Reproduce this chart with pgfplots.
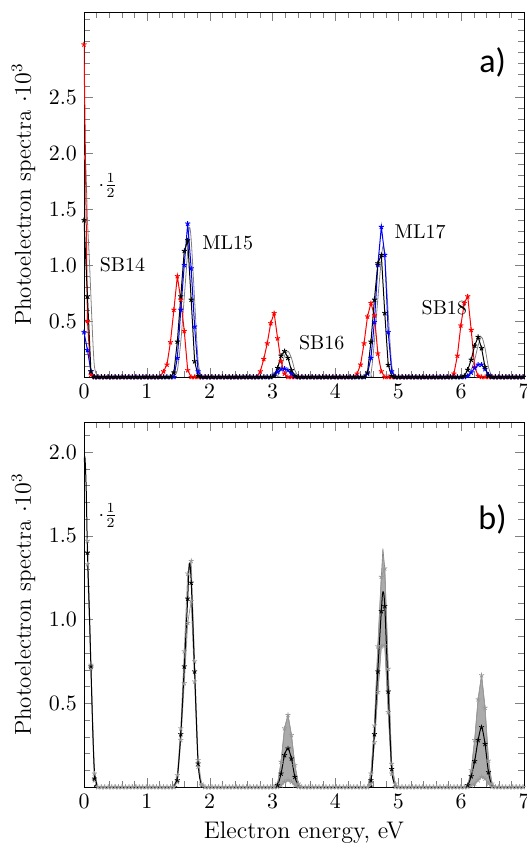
\documentclass[border=0pt]{standalone}
\usepackage{fontspec}
\usepackage{pgfplots}
\pgfplotsset{compat=1.18}
\usepackage{pgfplotstable}
\newfontfamily\carlito{Carlito}

% x = 0.055*i ; r,k,b: top panel (red, black, blue); u,l: bottom panel gray series
\pgfplotstableread{
x r k b u l
0 2.97 1.40 0.40 nan nan
0.055 0.50 0.72 0.24 1.47 1.33
0.11 0.02 0.05 0.05 0.73 0.71
0.165 0 0 0 0.08 0.04
0.22 0 0 0 0 0
0.275 0 0 0 0 0
0.33 0 0 0 0 0
0.385 0 0 0 0 0
0.44 0 0 0 0 0
0.495 0 0 0 0 0
0.55 0 0 0 0 0
0.605 0 0 0 0 0
0.66 0 0 0 0 0
0.715 0 0 0 0 0
0.77 0 0 0 0 0
0.825 0 0 0 0 0
0.88 0 0 0 0 0
0.935 0 0 0 0 0
0.99 0 0 0 0 0
1.045 0 0 0 0 0
1.1 0 0 0 0 0
1.155 0 0 0 0 0
1.21 0 0 0 0 0
1.265 0.05 0 0 0 0
1.32 0.11 0 0 0 0
1.375 0.31 0 0 0 0
1.43 0.60 0.04 0 0 0
1.485 0.90 0.315 0.17 0.07 0.03
1.54 0.69 0.72 0.60 0.35 0.28
1.595 0.41 1.125 1.00 0.81 0.62
1.65 0.06 1.22 1.37 1.275 0.98
1.705 0 0.69 0.97 1.35 1.11
1.76 0 0.14 0.45 0.75 0.63
1.815 0 0.01 0.05 0.16 0.12
1.87 0 0 0 0.02 0.01
1.925 0 0 0 0 0
1.98 0 0 0 0 0
2.035 0 0 0 0 0
2.09 0 0 0 0 0
2.145 0 0 0 0 0
2.2 0 0 0 0 0
2.255 0 0 0 0 0
2.31 0 0 0 0 0
2.365 0 0 0 0 0
2.42 0 0 0 0 0
2.475 0 0 0 0 0
2.53 0 0 0 0 0
2.585 0 0 0 0 0
2.64 0 0 0 0 0
2.695 0 0 0 0 0
2.75 0 0 0 0 0
2.805 0.05 0 0 0 0
2.86 0.16 0 0 0 0
2.915 0.30 0 0 0 0
2.97 0.48 0 0 0 0
3.025 0.57 0.01 0.02 0 0
3.08 0.345 0.08 0.045 0.02 0
3.135 0.14 0.19 0.07 0.15 0.01
3.19 0.03 0.23 0.075 0.35 0.03
3.245 0 0.17 0.06 0.43 0.04
3.3 0 0.06 0.03 0.31 0.03
3.355 0 0.01 0.005 0.13 0.01
3.41 0 0 0 0.02 0
3.465 0 0 0 0 0
3.52 0 0 0 0 0
3.575 0 0 0 0 0
3.63 0 0 0 0 0
3.685 0 0 0 0 0
3.74 0 0 0 0 0
3.795 0 0 0 0 0
3.85 0 0 0 0 0
3.905 0 0 0 0 0
3.96 0 0 0 0 0
4.015 0 0 0 0 0
4.07 0 0 0 0 0
4.125 0 0 0 0 0
4.18 0 0 0 0 0
4.235 0 0 0 0 0
4.29 0 0 0 0 0
4.345 0.03 0 0 0 0
4.4 0.11 0 0 0 0
4.455 0.30 0 0 0 0
4.51 0.54 0.04 0.03 0 0
4.565 0.66 0.315 0.17 0.08 0.02
4.62 0.55 0.69 0.49 0.367 0.267
4.675 0.21 1.015 1.00 0.84 0.567
4.73 0.05 1.09 1.34 1.255 0.84
4.785 0 0.57 1.09 1.305 0.846
4.84 0 0.107 0.40 0.706 0.447
4.895 0 0.01 0.05 0.138 0.08
4.95 0 0 0 0.02 0
5.005 0 0 0 0 0
5.06 0 0 0 0 0
5.115 0 0 0 0 0
5.17 0 0 0 0 0
5.225 0 0 0 0 0
5.28 0 0 0 0 0
5.335 0 0 0 0 0
5.39 0 0 0 0 0
5.445 0 0 0 0 0
5.5 0 0 0 0 0
5.555 0 0 0 0 0
5.61 0 0 0 0 0
5.665 0 0 0 0 0
5.72 0 0 0 0 0
5.775 0 0 0 0 0
5.83 0 0 0 0 0
5.885 0.03 0 0 0 0
5.94 0.19 0 0 0 0
5.995 0.46 0 0 0 0
6.05 0.66 0.01 0 0 0
6.105 0.72 0.064 0.01 0.01 0
6.16 0.42 0.154 0.04 0.10 0.01
6.215 0.09 0.28 0.08 0.28 0.02
6.27 0.01 0.357 0.11 0.523 0.04
6.325 0 0.257 0.11 0.667 0.06
6.38 0 0.088 0.07 0.473 0.05
6.435 0 0.01 0.02 0.157 0.02
6.49 0 0 0 0.02 0
6.545 0 0 0 0 0
6.6 0 0 0 0 0
6.655 0 0 0 0 0
6.71 0 0 0 0 0
6.765 0 0 0 0 0
6.82 0 0 0 0 0
6.875 0 0 0 0 0
6.93 0 0 0 0 0
6.985 0 0 0 0 0
}\data

% smooth curve: gray in a), black in b)
\pgfplotstableread{
x y
0 1.94
0.015 1.97
0.035 1.78
0.055 1.40
0.085 1.05
0.11 0.72
0.14 0.33
0.165 0.10
0.2 0.02
0.25 0
1.40 0
1.43 0.01
1.485 0.06
1.54 0.317
1.595 0.71
1.65 1.13
1.675 1.335
1.705 1.23
1.76 0.687
1.815 0.15
1.87 0.01
1.95 0
3.03 0
3.08 0.01
3.135 0.08
3.19 0.19
3.245 0.23
3.30 0.17
3.355 0.06
3.41 0.01
3.47 0
4.50 0
4.565 0.03
4.62 0.32
4.675 0.70
4.73 1.05
4.755 1.165
4.785 1.08
4.84 0.57
4.895 0.11
4.95 0.01
5.0 0
6.05 0
6.105 0.01
6.16 0.064
6.215 0.154
6.27 0.28
6.325 0.357
6.38 0.257
6.435 0.088
6.49 0.01
6.55 0
7 0
}\theory

\pgfplotsset{
  panel/.style={width=220pt, height=182.5pt, scale only axis,
    xmin=0, xmax=7, xtick={0,...,7}, minor x tick num=4, ymin=0,
    tick label style={font=\fontsize{11}{13}\selectfont},
    xlabel style={font=\fontsize{12}{14}\selectfont},
    ylabel style={font=\fontsize{11.5}{13}\selectfont},
    yticklabel style={/pgf/number format/fixed, /pgf/number format/fixed zerofill,
      /pgf/number format/precision=1},
    ylabel={Photoelectron spectra $\cdot 10^3$}},
  pe/.style={line width=0.5pt, mark=star, mark size=1.3pt, mark options={solid}},
}

\begin{document}
\begin{tikzpicture}
\begin{axis}[panel, ymax=3.26, ytick={0.5,1,1.5,2,2.5}, minor ytick={0,0.1,...,3.2}]
\addplot[gray, line width=0.4pt, smooth] table[x=x, y=y] {\theory};
\addplot[pe, red] table[x=x, y=r] {\data};
\addplot[pe, blue] table[x=x, y=b] {\data};
\addplot[pe, black] table[x=x, y=k] {\data};
\node[anchor=west] at (axis cs:0.12,1.71) {$\cdot\frac{1}{2}$};
\node[anchor=west] at (axis cs:0.14,1.0) {SB14};
\node[anchor=west] at (axis cs:1.77,1.2) {ML15};
\node[anchor=west] at (axis cs:3.31,0.31) {SB16};
\node[anchor=west] at (axis cs:4.83,1.3) {ML17};
\node[anchor=west] at (axis cs:5.26,0.62) {SB18};
\node at (axis cs:6.5,2.81) {\carlito\fontsize{17}{20}\selectfont a)};
\end{axis}

\begin{axis}[panel, at={(0pt,-205pt)}, anchor=south west, ymax=2.18,
  ytick={0.5,1,1.5,2}, minor ytick={0,0.1,...,2.1}, xlabel={Electron energy, eV}]
\addplot[fill=black!33, draw=gray, line width=0.3pt] coordinates {
(3.025,0) (3.08,0.02) (3.135,0.15) (3.19,0.35) (3.245,0.43) (3.3,0.31) (3.355,0.13) (3.41,0.02) (3.465,0)
(3.41,0) (3.355,0.01) (3.3,0.03) (3.245,0.04) (3.19,0.03) (3.135,0.01) (3.08,0)} -- cycle;
\addplot[fill=black!33, draw=gray, line width=0.3pt] coordinates {
(4.51,0) (4.565,0.08) (4.62,0.367) (4.675,0.84) (4.73,1.255) (4.755,1.425) (4.785,1.305) (4.84,0.706) (4.895,0.138) (4.95,0.02)
(4.95,0) (4.895,0.08) (4.84,0.447) (4.785,0.846) (4.73,0.84) (4.675,0.567) (4.62,0.267) (4.565,0.02)} -- cycle;
\addplot[fill=black!33, draw=gray, line width=0.3pt] coordinates {
(6.05,0) (6.105,0.01) (6.16,0.10) (6.215,0.28) (6.27,0.523) (6.325,0.667) (6.38,0.473) (6.435,0.157) (6.49,0.02) (6.545,0)
(6.49,0) (6.435,0.02) (6.38,0.05) (6.325,0.06) (6.27,0.04) (6.215,0.02) (6.16,0.01) (6.105,0)} -- cycle;
\addplot[pe, gray!80, line width=0.4pt] table[x=x, y=u] {\data};
\addplot[pe, gray!80, line width=0.4pt] table[x=x, y=l] {\data};
\addplot[black, only marks, mark=star, mark size=1.3pt] coordinates {
(0.055,1.40) (0.11,0.72) (0.165,0.05)
(1.485,0.04) (1.54,0.315) (1.595,0.72) (1.65,1.125) (1.705,1.22) (1.76,0.69) (1.815,0.14)
(3.08,0.01) (3.135,0.08) (3.19,0.19) (3.245,0.23) (3.3,0.17) (3.355,0.06)
(4.565,0.04) (4.62,0.315) (4.675,0.69) (4.73,1.05) (4.785,1.08) (4.84,0.57) (4.895,0.107)
(6.105,0.01) (6.16,0.064) (6.215,0.154) (6.27,0.28) (6.325,0.357) (6.38,0.257) (6.435,0.088)};
\addplot[black, line width=0.5pt, smooth] table[x=x, y=y] {\theory};
\node[anchor=west] at (axis cs:0.12,1.62) {$\cdot\frac{1}{2}$};
\node at (axis cs:6.5,1.6) {\carlito\fontsize{17}{20}\selectfont b)};
\end{axis}
\pgfresetboundingbox
\path (-42pt,-233.5pt) rectangle (221.25pt,188.5pt);
\end{tikzpicture}
\end{document}
